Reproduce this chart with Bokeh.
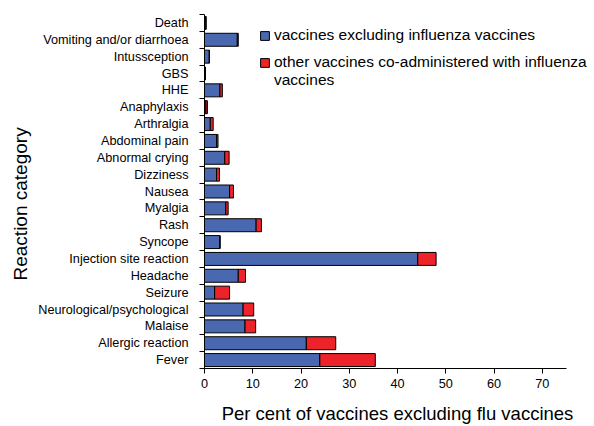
from bokeh.plotting import figure
from bokeh.models import ColumnDataSource, FixedTicker, Range1d, Legend, LegendItem, Title
from bokeh.embed import file_html
from bokeh.resources import INLINE

categories = ["Fever", "Allergic reaction", "Malaise", "Neurological/psychological",
              "Seizure", "Headache", "Injection site reaction", "Syncope", "Rash",
              "Myalgia", "Nausea", "Dizziness", "Abnormal crying", "Abdominal pain",
              "Arthralgia", "Anaphylaxis", "HHE", "GBS", "Intussception",
              "Vomiting and/or diarrhoea", "Death"]
excl_flu = [23.9, 21.1, 8.4, 8.0, 2.1, 7.0, 44.2, 3.2, 10.7, 4.4, 5.2, 2.5, 4.2,
            2.5, 1.2, 0.3, 3.2, 0.2, 1.0, 6.8, 0.3]
co_admin = [11.5, 6.1, 2.2, 2.2, 3.1, 1.5, 3.8, 0.0, 1.1, 0.5, 0.8, 0.6, 0.9,
            0.3, 0.6, 0.3, 0.5, 0.0, 0.0, 0.2, 0.0]
x_ticks = [0, 10, 20, 30, 40, 50, 60, 70]
x_axis_end = 75
legend_lines = ["vaccines excluding influenza vaccines",
                "other vaccines co-administered with influenza",
                "vaccines"]
colors = ["#4A68B0", "#EE2229"]

n = len(categories)
ypos = [i + 0.5 for i in range(n)]
source = ColumnDataSource(dict(y=ypos, excl=excl_flu, co=co_admin, cat=categories))

p = figure(width=594, height=426, output_backend="svg", toolbar_location=None,
           x_range=Range1d(0, 80), y_range=Range1d(0, n),
           min_border_left=204, min_border_right=4, min_border_top=14,
           min_border_bottom=58)
p.outline_line_color = None
p.xgrid.visible = False
p.ygrid.visible = False

rs = p.hbar_stack(["excl", "co"], y="y", height=0.77, color=colors,
                  line_color="black", line_width=1, source=source)
# invisible renderer used only to carry the wrapped second line of the legend text
blank = p.hbar(y=[], right=[], height=0.77, fill_alpha=0, line_alpha=0)

font = "Liberation Sans"
# x axis
xa = p.xaxis[0]
xa.bounds = (0, x_axis_end)
xa.ticker = FixedTicker(ticks=x_ticks, minor_ticks=[])
xa.axis_label = "Per cent of vaccines excluding flu vaccines"
xa.axis_label_text_font = font
xa.axis_label_text_font_size = "18.5px"
xa.axis_label_text_font_style = "normal"
xa.axis_label_text_color = "black"
xa.axis_label_standoff = 12
xa.major_label_text_font = font
xa.major_label_text_font_size = "12.7px"
xa.major_label_text_color = "black"
xa.major_tick_out = 5
xa.major_tick_in = 0
xa.axis_line_color = "black"
xa.major_tick_line_color = "black"

# y axis: labels at category centres, ticks at category boundaries
ya = p.yaxis[0]
ya.ticker = FixedTicker(ticks=ypos, minor_ticks=list(range(n + 1)))
ya.major_label_overrides = {y: c for y, c in zip(ypos, categories)}
ya.major_tick_line_color = None
ya.minor_tick_line_color = "black"
ya.minor_tick_out = 5
ya.minor_tick_in = 0
ya.major_label_standoff = 10
ya.major_label_text_font = font
ya.major_label_text_font_size = "12.7px"
ya.major_label_text_color = "black"
ya.axis_line_color = "black"

ytitle = Title(text="Reaction category", align="left", offset=88,
               text_font=font, text_font_size="19px", text_font_style="normal",
               text_color="black", standoff=9)
p.add_layout(ytitle, "left")

common = dict(border_line_color=None, background_fill_alpha=0, padding=0, margin=0,
              spacing=0, glyph_width=11, glyph_height=11, label_standoff=4,
              label_text_font=font, label_text_font_size="15.5px",
              label_text_color="black", label_height=17)
legend_a = Legend(items=[LegendItem(label=legend_lines[0], renderers=[rs[0]])],
                  location=(55, 324), **common)
legend_b = Legend(items=[LegendItem(label=legend_lines[1], renderers=[rs[1]]),
                         LegendItem(label=legend_lines[2], renderers=[blank])],
                  location=(55, 279), **common)
p.add_layout(legend_a)
p.add_layout(legend_b)

open("out.html", "w").write(file_html(p, INLINE))
